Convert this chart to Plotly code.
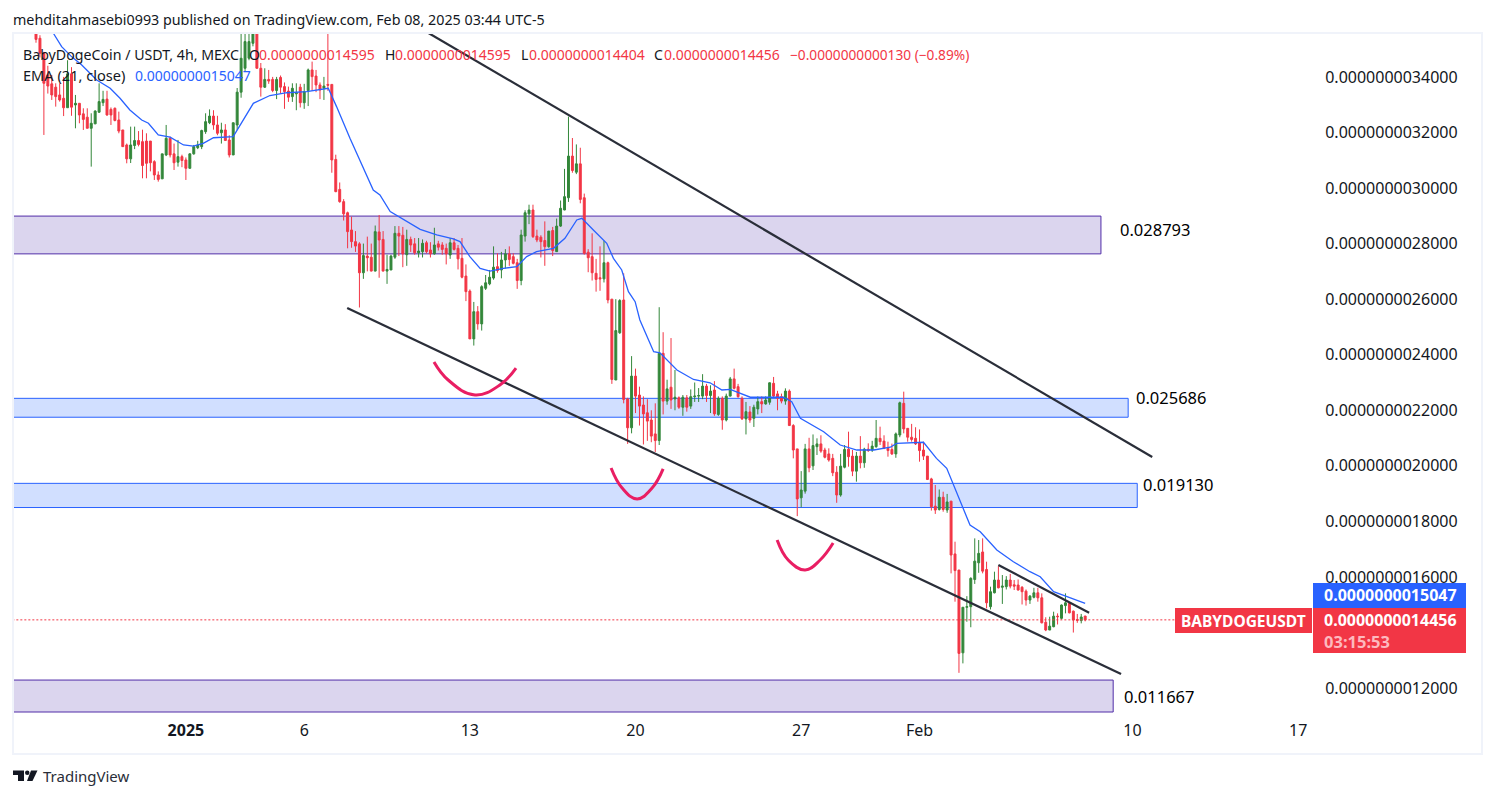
import pandas as pd
import plotly.graph_objects as go

W, H = 1495, 798
PLOT_L, PLOT_R, PLOT_T, PLOT_B = 14, 1310, 33, 722
UNIT = 1e-10  # the price lists below are in units of 1e-10 USDT

START = pd.Timestamp("2024-12-25 16:00")
STEP = pd.Timedelta(hours=4)

opens = [
 35.57,35.39,34.85,34.07,33.75,33.63,33.35,33.23,32.89,34.11,
 32.99,33.05,32.67,32.55,32.15,32.31,32.73,33.07,33.2,32.83,
 32.87,32.45,32.09,31.55,31.05,31.53,31.71,31.67,31.69,31.69,
 30.95,30.47,30.33,31.19,31.79,31.23,30.93,31.13,31.01,30.71,
 31.23,31.45,31.49,32.03,32.35,32.59,32.27,31.99,32.09,31.73,
 31.19,32.27,33.45,34.31,34.67,35.21,35.6,34.31,33.63,33.91,
 33.91,33.51,33.98,33.65,33.49,33.29,33.39,33.63,33.07,33.51,
 34.25,34.03,33.71,33.59,33.73,33.73,31.03,29.95,29.51,29.11,
 28.49,28.07,27.99,26.95,27.55,27.51,27.01,28.42,28.15,27.01,
 27.05,27.51,28.37,28.3,27.6,28.15,27.99,27.67,27.71,28.03,
 27.77,27.63,27.99,27.95,27.83,27.59,28.03,27.83,27.47,26.83,
 26.29,24.57,25.55,25.11,26.39,26.55,26.76,27.17,27.05,27.41,
 27.63,27.53,27.31,26.67,28.27,29.07,29.21,28.27,28.23,28.11,
 27.89,28.47,27.71,28.63,29.21,29.65,31.15,30.57,30.87,29.65,
 27.69,27.53,26.93,26.77,26.73,27.31,26.0,23.09,24.79,25.97,
 22.41,21.37,23.23,22.55,22.19,21.91,21.65,21.15,20.91,24.05,
 22.33,22.83,22.41,22.45,22.11,22.45,22.15,22.49,22.51,22.51,
 22.87,22.53,22.73,21.85,22.43,21.65,22.51,23.13,22.85,22.43,
 21.69,21.94,21.71,22.05,22.31,22.23,22.29,22.97,22.59,22.49,
 22.33,22.69,21.45,20.61,18.85,19.09,20.61,20.0,20.69,20.79,
 20.57,20.43,20.27,19.77,18.95,19.95,20.6,20.35,19.81,20.35,
 20.11,20.6,20.57,20.69,20.99,20.89,20.63,20.59,20.43,21.11,
 22.25,21.35,21.03,20.99,20.83,20.57,20.35,19.53,18.55,18.43,
 18.87,18.41,18.73,16.83,16.25,13.27,14.91,14.93,15.91,16.51,
 16.9,16.27,14.93,15.43,15.89,15.63,15.65,15.89,15.72,15.71,
 15.63,15.49,15.17,15.27,15.43,15.25,14.37,14.09,14.21,14.59,
 14.51,14.97,15.05,14.77,14.47,14.43,14.595,
]
highs = [
 35.8,35.5,34.9,34.4,34.07,33.77,33.77,34.0,34.6,34.35,
 33.35,33.05,32.87,32.87,32.69,32.8,33.77,33.5,33.5,32.9,
 32.9,32.75,32.09,31.6,32.21,32.21,32.05,32.1,31.97,31.69,
 31.0,30.6,31.23,32.27,31.85,31.6,31.73,31.2,31.1,31.25,
 31.55,31.7,32.1,32.69,32.83,32.8,32.6,32.35,32.3,31.9,
 32.35,33.6,35.6,35.9,35.9,36.0,36.0,34.5,34.31,34.25,
 34.0,34.0,34.05,33.8,33.65,33.77,33.77,33.75,33.75,34.3,
 34.55,34.25,33.8,34.0,36.0,33.73,31.2,30.2,29.6,29.15,
 28.97,28.45,28.05,28.0,28.25,28.0,28.65,29.03,28.45,27.6,
 27.6,28.63,28.63,28.6,28.5,28.25,28.2,28.2,28.15,28.1,
 28.05,28.57,28.1,28.05,28.0,28.2,28.2,27.95,28.2,27.25,
 26.35,25.9,25.75,26.5,26.87,27.05,27.9,27.65,27.7,27.8,
 27.9,27.65,27.45,28.5,29.2,29.4,29.4,28.5,28.3,28.8,
 28.45,28.6,28.9,29.55,30.69,32.57,31.8,31.57,31.45,29.8,
 27.8,28.37,27.45,27.9,28.1,27.35,26.0,26.0,26.0,26.93,
 22.45,23.95,23.5,22.85,22.5,22.4,22.0,22.25,25.71,24.81,
 23.1,24.6,23.45,22.5,22.55,22.55,22.75,23.0,22.8,23.3,
 22.95,22.9,23.05,22.5,22.5,22.6,23.2,23.5,22.95,22.5,
 22.3,22.15,22.2,22.5,22.5,22.5,23.0,23.2,22.7,22.6,
 22.79,22.75,21.5,20.61,19.81,20.79,21.01,21.13,20.99,21.1,
 20.65,20.63,20.43,19.99,20.43,20.75,21.23,20.57,20.5,21.07,
 20.65,20.81,20.9,21.65,21.41,21.1,20.87,20.8,21.2,22.31,
 22.67,21.35,21.51,21.39,21.31,20.87,20.35,19.57,19.31,19.15,
 19.07,18.99,18.73,17.27,16.25,14.91,15.31,15.99,17.39,17.33,
 17.39,16.55,15.65,16.19,16.39,16.07,16.03,16.11,15.89,15.91,
 15.67,15.55,15.35,15.61,15.61,15.41,14.55,14.57,14.75,14.69,
 15.01,15.41,15.09,14.79,14.67,14.67,14.595,
]
lows = [
 35.23,34.7,31.91,33.4,33.17,32.93,33.11,32.59,32.89,32.6,
 32.15,32.33,32.09,32.15,30.77,32.3,32.7,32.95,32.6,32.27,
 32.4,31.97,31.49,30.89,30.9,31.4,31.5,30.35,30.35,30.6,
 30.29,30.23,30.33,31.15,31.1,30.65,30.77,30.75,30.29,30.7,
 31.2,31.4,31.4,31.95,32.3,32.1,31.9,31.6,31.7,31.1,
 31.19,32.09,33.25,34.2,34.6,35.1,34.3,33.29,33.6,33.75,
 33.45,33.2,33.4,32.85,33.1,33.1,32.8,32.9,32.85,32.95,
 33.5,33.45,33.2,33.17,33.5,30.55,29.85,29.47,28.83,27.83,
 27.85,27.7,25.7,26.73,27.0,27.0,27.0,26.77,27.0,26.55,
 27.05,27.45,27.55,27.15,27.2,27.7,27.6,27.5,27.5,27.65,
 27.5,27.6,27.75,27.6,27.25,27.45,27.75,27.07,26.75,25.93,
 24.57,24.33,24.9,24.87,26.33,26.5,26.7,26.95,26.75,27.1,
 27.2,27.25,26.37,26.5,28.07,28.7,28.2,28.05,27.5,27.2,
 27.85,27.55,27.7,28.6,29.2,29.5,30.55,30.5,29.45,27.6,
 26.97,26.67,26.27,26.3,26.6,25.85,22.95,23.09,24.75,22.25,
 20.79,21.17,21.9,21.45,20.77,20.9,20.85,20.5,20.75,21.85,
 22.2,22.05,22.0,22.05,21.8,21.95,22.05,22.3,22.3,22.4,
 22.3,21.9,21.8,21.8,21.3,21.6,22.5,22.75,22.45,21.65,
 21.13,21.55,21.4,21.85,21.9,22.2,22.2,22.45,22.0,22.25,
 22.2,21.45,20.27,18.19,18.51,19.0,19.77,19.85,20.39,20.47,
 20.27,20.15,19.63,18.67,18.89,19.91,19.97,19.63,19.43,19.91,
 19.93,20.5,20.5,20.65,20.75,20.6,20.33,20.39,20.29,21.03,
 21.17,20.87,20.87,20.75,20.15,20.21,19.49,18.39,18.27,18.39,
 18.35,18.31,16.13,15.11,12.55,12.89,14.39,14.19,15.75,16.15,
 16.13,14.87,14.83,15.41,15.59,15.03,15.55,15.59,15.53,15.51,
 15.01,14.97,15.03,15.23,15.11,14.33,14.05,14.09,14.19,14.29,
 14.47,14.69,14.69,14.0,14.35,14.33,14.404,
]
closes = [
 35.35,34.85,33.77,33.67,33.35,33.29,33.17,32.89,34.11,32.91,
 33.05,32.63,32.47,32.15,32.33,32.77,33.11,33.19,32.63,32.63,
 32.43,32.05,31.49,31.05,31.55,31.71,31.57,30.81,30.89,30.91,
 30.47,30.31,31.23,31.79,31.19,30.91,31.13,30.99,30.71,31.23,
 31.49,31.55,32.07,32.39,32.59,32.27,31.97,32.09,31.71,31.19,
 32.35,33.45,34.67,35.27,35.27,35.6,34.31,33.63,33.91,33.85,
 33.51,33.91,33.63,33.47,33.27,33.59,33.43,33.07,33.47,34.25,
 34.01,33.71,33.53,33.67,33.7,31.01,29.87,29.51,29.07,28.43,
 28.07,27.91,26.95,27.57,27.49,27.01,28.43,28.13,27.01,27.07,
 27.55,28.37,28.27,27.63,28.15,27.95,27.67,27.73,28.01,27.71,
 27.63,27.95,27.87,27.79,27.63,28.03,27.79,27.45,26.79,26.27,
 24.57,25.55,25.11,26.45,26.59,26.79,27.15,27.03,27.41,27.63,
 27.43,27.29,26.67,28.31,29.11,29.21,28.25,28.13,28.07,27.89,
 28.45,27.75,28.63,29.27,29.69,31.15,30.63,30.87,29.59,27.65,
 27.49,26.95,26.71,26.73,27.31,25.97,23.11,24.87,25.95,22.39,
 21.37,23.23,22.51,22.15,21.87,21.61,21.07,20.91,24.05,22.33,
 22.77,22.37,22.47,22.11,22.47,22.11,22.49,22.51,22.53,22.87,
 22.53,22.69,21.87,22.43,21.65,22.51,23.13,22.79,22.49,21.69,
 21.95,21.65,22.11,22.31,22.23,22.37,22.99,22.51,22.43,22.33,
 22.69,21.45,20.57,18.81,19.13,20.61,19.93,20.73,20.79,20.53,
 20.31,20.21,19.75,18.95,19.99,20.59,20.33,19.81,20.35,20.11,
 20.6,20.55,20.71,20.99,20.87,20.63,20.55,20.43,21.15,22.27,
 21.33,21.03,20.95,20.79,20.55,20.35,19.51,18.53,18.41,18.87,
 18.43,18.7,16.79,16.23,13.25,14.91,14.93,15.95,16.57,16.85,
 16.21,15.07,15.47,15.89,15.61,15.67,15.89,15.67,15.67,15.53,
 15.47,15.17,15.31,15.43,15.25,14.35,14.09,14.23,14.59,14.57,
 14.99,15.07,14.71,14.45,14.44,14.56,14.456,
]

# EMA(21): bar number, value
ema_bars = [4.4,6.5,9,11.6,15.4,18.8,21.3,23.8,26.8,28.5,31,34,37.4,39.9,42.4,45,50,52.6,55.1,59.3,
            63.6,68.6,74.1,76.2,79.6,85.5,87.2,89.8,94,97.4,101.6,105.8,107.5,110,112.6,115.1,118.5,
            121.9,124.4,126.9,131.2,134.1,137.1,138.4,141.3,144.7,146.4,148.5,150.2,151.9,153.1,156.6,
            158.2,162.5,166.7,170.9,173.9,176,181.1,189.5,191.6,193.8,199.7,203.9,208.1,212.4,216.6,
            218.2,225,228.3,230.9,233,235.2,236.8,239.4,243.6,247.8,252,254.6,258,261.4,266]
ema_values = [35.57,35.09,34.73,34.43,33.89,33.59,33.23,32.81,32.45,32.33,31.91,31.83,31.55,31.51,31.61,
              31.81,31.85,32.45,33.05,33.33,33.43,33.47,33.59,32.93,31.79,29.93,29.75,29.15,28.81,28.51,
              28.31,28.17,28.07,27.53,27.11,27.01,27.11,27.17,27.53,27.71,27.83,28.19,28.85,28.91,28.49,
              28.01,27.47,27.05,26.27,25.91,25.25,24.11,24.07,23.45,23.11,22.99,22.73,22.75,22.47,22.47,
              22.31,21.71,21.23,20.75,20.57,20.57,20.67,20.81,20.85,20.27,19.91,19.16,18.41,17.87,17.63,
              16.97,16.55,16.19,16.01,15.47,15.29,15.05]

# Zones: top price, bottom price, last bar
zone_tops = [28.99, 22.43, 19.37, 12.29]
zone_bottoms = [27.63, 21.75, 18.50, 11.14]
zone_ends = [270, 276.9, 279.2, 273.1]
zone_kinds = ["purple", "blue", "blue", "purple"]
zone_labels = ["0.028793", "0.025686", "0.019130", "0.011667"]

# Channel lines: bar pairs, price pairs
trend_bars = [(99.5, 283), (78.9, 275.1), (244, 267)]
trend_prices = [(35.58, 20.32), (25.68, 12.51), (16.43, 14.71)]

# Hand-drawn red arcs
arc_bars = [(100.9,104.5,111.3,117.6,121.7), (145.8,148.6,152.4,156.2,159), (187.9,190.7,195,198.8,202.1)]
arc_prices = [(23.74,23.09,22.55,22.91,23.52), (19.92,19.2,18.81,19.2,19.89), (17.33,16.61,16.25,16.61,17.22)]

last_close = 14.456
ema_last = 15.047
price_ticks = [12,14,16,18,20,22,24,26,28,30,32,34]
date_ticks = ["2025-01-01","2025-01-06","2025-01-13","2025-01-20","2025-01-27","2025-02-01","2025-02-10","2025-02-17"]
date_labels = ["<b>2025</b>","6","13","20","27","Feb","10","17"]

assert len(opens) == len(highs) == len(lows) == len(closes) == 267
assert len(ema_bars) == len(ema_values)

INK = "#131722"
RED = "#f23645"
GREEN = "#33873a"
BLUE = "#2962ff"
FONT = "Noto Sans"


def when(bar):
    return START + STEP * bar


def scale(seq):
    return [v * UNIT for v in seq]


def px(x):
    return (x - PLOT_L) / (PLOT_R - PLOT_L)


def py(y):
    return (PLOT_B - y) / (PLOT_B - PLOT_T)


times = [when(i) for i in range(len(opens))]

fig = go.Figure()
fig.add_trace(go.Candlestick(
    x=times, open=scale(opens), high=scale(highs), low=scale(lows), close=scale(closes),
    increasing=dict(line=dict(color=GREEN, width=1), fillcolor=GREEN),
    decreasing=dict(line=dict(color=RED, width=1), fillcolor=RED),
    whiskerwidth=0, hoverinfo="skip", showlegend=False,
))
fig.add_trace(go.Scatter(
    x=[when(b) for b in ema_bars], y=scale(ema_values), mode="lines",
    line=dict(color=BLUE, width=1.3), hoverinfo="skip", showlegend=False,
))
fig.add_trace(go.Scatter(
    x=[when(-6), when(288.8)], y=scale([last_close, last_close]), mode="lines",
    line=dict(color=RED, width=1, dash="2px,2px"), hoverinfo="skip", showlegend=False,
))
for bars, prices in zip(trend_bars, trend_prices):
    fig.add_trace(go.Scatter(
        x=[when(b) for b in bars], y=scale(prices), mode="lines",
        line=dict(color="#2a2e39", width=2.2), hoverinfo="skip", showlegend=False,
    ))
for bars, prices in zip(arc_bars, arc_prices):
    fig.add_trace(go.Scatter(
        x=[when(b) for b in bars], y=scale(prices), mode="lines",
        line=dict(color="#e91e63", width=3, shape="spline", smoothing=1.2),
        hoverinfo="skip", showlegend=False,
    ))

shapes = []
for top, bottom, end, kind in zip(zone_tops, zone_bottoms, zone_ends, zone_kinds):
    fill, edge = ("#dbd5ee", "#512da8") if kind == "purple" else ("#d1dfff", BLUE)
    shapes.append(dict(type="rect", xref="x", yref="y", layer="below",
                       x0=when(-8), x1=when(end), y0=bottom * UNIT, y1=top * UNIT,
                       fillcolor=fill, line=dict(color=edge, width=1)))


def rect(x0, y0, x1, y1, fill=None, line=None, width=0):
    shapes.append(dict(type="rect", xref="paper", yref="paper",
                       x0=px(x0), x1=px(x1), y0=py(y1), y1=py(y0),
                       fillcolor=fill or "rgba(0,0,0,0)",
                       line=dict(color=line or "rgba(0,0,0,0)", width=width)))


rect(13, 33, 1482, 754, line="#f0f3fa", width=2)
rect(1313, 583, 1466, 608, fill=BLUE)
rect(1313, 608, 1466, 653, fill=RED)
rect(1175, 608, 1312, 633, fill=RED)


def poly(points, fill=INK):
    d = "M " + " L ".join(f"{px(x):.5f},{py(y):.5f}" for x, y in points) + " Z"
    shapes.append(dict(type="path", xref="paper", yref="paper", path=d,
                       fillcolor=fill, line=dict(width=0)))


# TradingView logo
poly([(13, 770.5), (24, 770.5), (24, 781), (18, 781), (18, 775), (13, 775)])
shapes.append(dict(type="circle", xref="paper", yref="paper", x0=px(25), x1=px(29.5),
                   y0=py(775), y1=py(770.5), fillcolor=INK, line=dict(width=0)))
poly([(31, 770.5), (37.5, 770.5), (32.5, 781), (27, 781)])

annotations = []


def text(x, y, s, size=14, color=INK, weight=None):
    annotations.append(dict(xref="paper", yref="paper", x=px(x), y=py(y), text=s,
                            xanchor="left", yanchor="middle", showarrow=False,
                            borderpad=0, align="left",
                            font=dict(family=FONT, size=size, color=color, weight=weight)))


text(12, 19, "mehditahmasebi0993 published on TradingView.com, Feb 08, 2025 03:44 UTC-5", 14.3)
text(22, 54, "BabyDogeCoin / USDT, 4h, MEXC", 14.2)
text(248, 54, "O", 14)
text(258, 54, "0.0000000014595", 14, RED)
text(384, 54, "H", 14)
text(394, 54, "0.0000000014595", 14, RED)
text(520, 54, "L", 14)
text(528, 54, "0.0000000014404", 14, RED)
text(653, 54, "C", 14)
text(663, 54, "0.0000000014456", 14, RED)
text(789, 54, "−0.0000000000130 (−0.89%)", 13.7, RED)
text(22, 75, "EMA (21, close)", 14.6)
text(134, 75, "0.0000000015047", 14, BLUE)
text(1180, 620.5, "BABYDOGEUSDT", 15.5, "#ffffff", 700)
text(1323, 595, "0.0000000015047", 16, "#ffffff", 700)
text(1323, 619.5, "0.0000000014456", 16, "#ffffff", 700)
text(1323, 641.5, "03:15:53", 16.5, "#fdb9bf", 700)
for lx, ly, s in zip([1119, 1135, 1142, 1123], [229, 397, 484, 696], zone_labels):
    text(lx, ly, s, 16.5, "#000000")
text(42, 776, "TradingView", 15, "#2a2e39")

fig.update_layout(
    width=W, height=H, paper_bgcolor="#ffffff", plot_bgcolor="#ffffff",
    margin=dict(l=PLOT_L, r=W - PLOT_R, t=PLOT_T, b=H - PLOT_B, pad=0),
    showlegend=False, shapes=shapes, annotations=annotations,
    font=dict(family=FONT, size=16, color=INK),
    xaxis=dict(type="date", range=[when(-5.578), when(323.0)], rangeslider=dict(visible=False),
               showgrid=False, zeroline=False, showline=False,
               tickmode="array", tickvals=date_ticks, ticktext=date_labels,
               ticks="", ticklen=0, ticklabelstandoff=-3,
               tickfont=dict(family=FONT, size=16, color=INK)),
    yaxis=dict(side="right", range=[10.78 * UNIT, 35.58 * UNIT],
               showgrid=False, zeroline=False, showline=False,
               tickmode="array", tickvals=[v * UNIT for v in price_ticks],
               ticktext=[f"{v * 1e-10:.13f}" for v in price_ticks],
               ticks="outside", ticklen=11, tickcolor="rgba(0,0,0,0)",
               tickfont=dict(family=FONT, size=16, color=INK)),
)

fig.write_html("out.html", post_script="document.body.style.margin='0';document.body.style.overflow='hidden';",
               config=dict(displayModeBar=False))
